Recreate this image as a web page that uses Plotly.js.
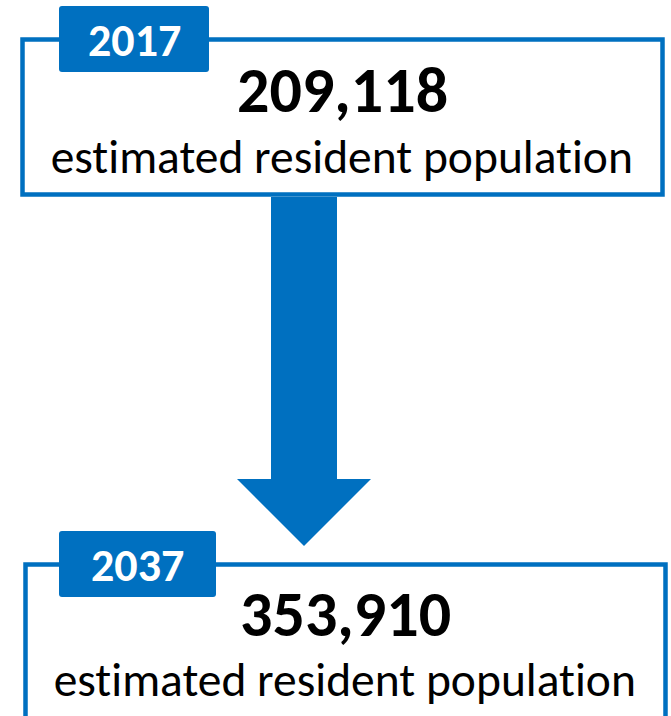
<!DOCTYPE html>
<html>
<head>
<meta charset="utf-8">
<script src="https://cdn.plot.ly/plotly-3.0.1.min.js"></script>
<style>html,body{margin:0;padding:0;background:#fff;}#chart{width:671px;height:716px;}#chart text{font-variant-ligatures:none;font-feature-settings:"liga" 0;}</style>
</head>
<body>
<div id="chart"></div>
<script>
const years = ['2017', '2037'];
const population = [209118, 353910];
const caption = 'estimated resident population';

const BLUE = '#0070C0';
const FONT = 'Carlito, Lato, "Open Sans", sans-serif';

// panel geometry (pixel coordinates of the axis, y pointing down)
const panels = [
  {box: [22.5, 39.5, 662.5, 194.5], tab: [59, 6, 209, 72], yearY: 40, numY: 90, capY: 157, cx: 342},
  {box: [25.5, 564.5, 665.5, 740], tab: [59, 531, 216, 597], yearY: 565, numY: 614, capY: 680, cx: 345}
];

function roundRect(x0, y0, x1, y1, r) {
  return `M${x0+r},${y0} L${x1-r},${y0} Q${x1},${y0} ${x1},${y0+r} L${x1},${y1-r} Q${x1},${y1} ${x1-r},${y1} L${x0+r},${y1} Q${x0},${y1} ${x0},${y1-r} L${x0},${y0+r} Q${x0},${y0} ${x0+r},${y0} Z`;
}

const shapes = [];
const annotations = [];

panels.forEach((p, i) => {
  shapes.push({type: 'rect', xref: 'x', yref: 'y', x0: p.box[0], y0: p.box[1], x1: p.box[2], y1: p.box[3],
    line: {color: BLUE, width: 4.5}, fillcolor: 'rgba(0,0,0,0)', layer: 'above'});
  shapes.push({type: 'path', xref: 'x', yref: 'y', path: roundRect(p.tab[0], p.tab[1], p.tab[2], p.tab[3], 3),
    fillcolor: BLUE, line: {width: 0}, layer: 'above'});
  annotations.push({x: (p.tab[0] + p.tab[2]) / 2, y: p.yearY, xref: 'x', yref: 'y', text: '<b>' + years[i] + '</b>',
    showarrow: false, xanchor: 'center', yanchor: 'middle', font: {family: FONT, size: 46, color: '#ffffff'}});
  annotations.push({x: p.cx, y: p.numY, xref: 'x', yref: 'y', text: '<b>' + population[i].toLocaleString('en-US') + '</b>',
    showarrow: false, xanchor: 'center', yanchor: 'middle', font: {family: FONT, size: 64, color: '#000000'}});
  annotations.push({x: p.cx, y: p.capY, xref: 'x', yref: 'y', text: caption,
    showarrow: false, xanchor: 'center', yanchor: 'middle', font: {family: FONT, size: 47.5, color: '#000000'}});
});

// downward arrow between the two panels
shapes.push({type: 'path', xref: 'x', yref: 'y',
  path: 'M271,197 L337,197 L337,479 L371,479 L304,546 L237,479 L271,479 Z',
  fillcolor: BLUE, line: {width: 0}, layer: 'above'});

const layout = {
  width: 671, height: 716,
  margin: {l: 0, r: 0, t: 0, b: 0},
  paper_bgcolor: '#ffffff', plot_bgcolor: '#ffffff',
  xaxis: {range: [0, 671], visible: false, fixedrange: true},
  yaxis: {range: [716, 0], visible: false, fixedrange: true},
  showlegend: false,
  shapes: shapes,
  annotations: annotations
};

Plotly.newPlot('chart', [], layout, {displayModeBar: false, staticPlot: true});
</script>
</body>
</html>
